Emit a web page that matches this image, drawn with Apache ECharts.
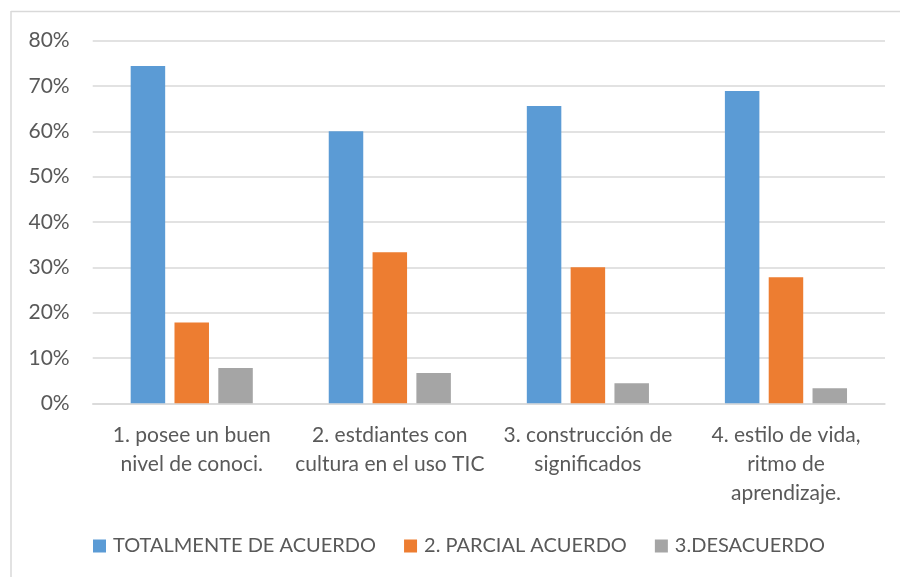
<!DOCTYPE html>
<html>
<head>
<meta charset="utf-8">
<script src="https://cdn.jsdelivr.net/npm/echarts@6/dist/echarts.min.js"></script>
<style>
html,body{margin:0;padding:0;background:#fff;}
#chart{width:900px;height:577px;}
</style>
</head>
<body>
<div id="chart"></div>
<script>
const categories = [
  "1. posee un buen\nnivel de conoci.",
  "2. estdiantes con\ncultura en el uso TIC",
  "3. construcción de\nsignificados",
  "4. estilo de vida,\nritmo de\naprendizaje."
];
const seriesNames = ["TOTALMENTE DE ACUERDO", "2. PARCIAL ACUERDO", "3.DESACUERDO"];
const totalmente = [74.4, 60.0, 65.6, 68.9];
const parcial = [17.8, 33.3, 30.0, 27.8];
const desacuerdo = [7.8, 6.7, 4.4, 3.3];
const yTicks = {min: 0, max: 80, interval: 10};

const colors = ["#5B9BD5", "#ED7D31", "#A5A5A5"];
const font = "Lato, 'Noto Sans', sans-serif";
const chart = echarts.init(document.getElementById('chart'));
const mk = (name, data, i) => ({
  name: name, type: 'bar', data: data,
  barWidth: 34.5, barGap: '27%',
  itemStyle: {color: colors[i]}
});
chart.setOption({
  animation: false,
  backgroundColor: '#fff',
  grid: {left: 92.7, right: 15, top: 40.7, bottom: 173.7, containLabel: false},
  xAxis: {
    type: 'category', data: categories,
    axisLine: {show: true, lineStyle: {color: '#d9d9d9', width: 1.5}},
    axisTick: {show: false},
    axisLabel: {color: '#595959', fontFamily: font, fontSize: 21, lineHeight: 29, margin: 17, interval: 0}
  },
  yAxis: {
    type: 'value', min: yTicks.min, max: yTicks.max, interval: yTicks.interval,
    axisLine: {show: false}, axisTick: {show: false},
    splitLine: {lineStyle: {color: '#d9d9d9', width: 1.5}},
    axisLabel: {formatter: '{value}%', color: '#595959', fontFamily: font, fontSize: 21, margin: 23}
  },
  legend: {
    bottom: 16, left: 88,
    itemWidth: 13, itemHeight: 13, itemGap: 28, icon: 'rect',
    textStyle: {color: '#595959', fontFamily: font, fontSize: 20, padding: [0, 0, 0, 2]},
    data: seriesNames
  },
  graphic: [
    {type: 'line', shape: {x1: 11, y1: 11.5, x2: 900, y2: 11.5}, style: {stroke: '#d9d9d9', lineWidth: 1.5}},
    {type: 'line', shape: {x1: 11, y1: 11, x2: 11, y2: 577}, style: {stroke: '#d9d9d9', lineWidth: 1.5}}
  ],
  series: [mk(seriesNames[0], totalmente, 0), mk(seriesNames[1], parcial, 1), mk(seriesNames[2], desacuerdo, 2)]
});
</script>
</body>
</html>
